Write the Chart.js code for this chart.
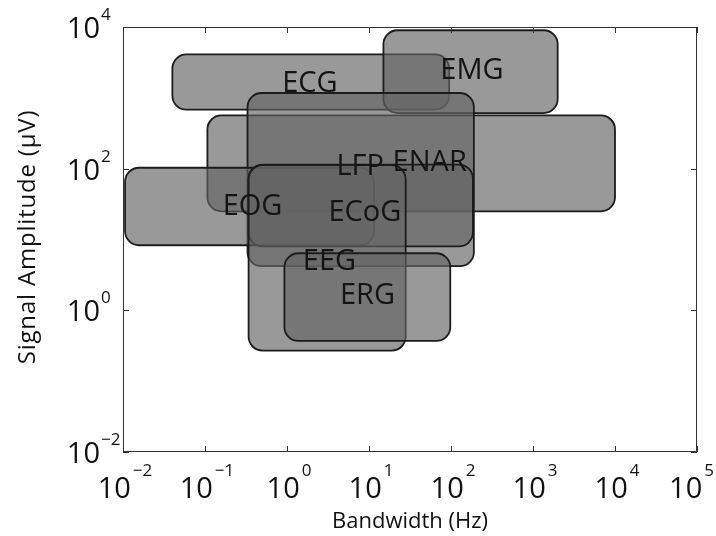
<!DOCTYPE html>
<html>
<head>
<meta charset="utf-8">
<script src="https://cdn.jsdelivr.net/npm/chart.js@4.4.1/dist/chart.umd.min.js"></script>
<style>
    html, body { margin: 0; padding: 0; background: #fff; }
    #wrap { width: 716px; height: 536px; position: relative; }
</style>
</head>
<body>
<div id="wrap"><canvas id="bandChart"></canvas></div>
<script>
// signal types: bandwidth range (Hz) and amplitude range (uV)
const names = ['ECG', 'EMG', 'ENAR', 'LFP', 'EOG', 'ECoG', 'EEG', 'ERG'];
const freqLow = [0.04, 15, 0.107, 0.33, 0.0106, 0.34, 0.34, 0.93];
const freqHigh = [95, 2000, 10000, 190, 11.5, 185, 28, 98];
const ampLow = [680, 610, 25, 4.2, 8.3, 8, 0.27, 0.37];
const ampHigh = [4100, 9000, 565, 1170, 103, 114, 112, 6.4];

// where each name is written
const labelFreq = [1.9, 180, 55, 7.8, 0.38, 8.9, 3.3, 9.6];
const labelAmp = [1600, 2450, 120, 108, 29, 24, 4.9, 1.6];

const xTickExps = [-2, -1, 0, 1, 2, 3, 4, 5];
const yTickExps = [-2, 0, 2, 4];

const FONT = '"Open Sans", "DejaVu Sans", sans-serif';

function expText(e) {
    return e < 0 ? '\u2212' + Math.abs(e) : String(e);
}

const boxPlugin = {
    id: 'bandBoxes',
    beforeDatasetsDraw(chart) {
        const { ctx, scales: { x, y } } = chart;
        ctx.save();
        for (let i = 0; i < names.length; i++) {
            const l = x.getPixelForValue(freqLow[i]);
            const r = x.getPixelForValue(freqHigh[i]);
            const t = y.getPixelForValue(ampHigh[i]);
            const b = y.getPixelForValue(ampLow[i]);
            ctx.beginPath();
            ctx.roundRect(l, t, r - l, b - t, 14);
            ctx.fillStyle = 'rgba(100, 100, 100, 0.66)';
            ctx.fill();
            ctx.lineWidth = 1.8;
            ctx.strokeStyle = '#1c1c1c';
            ctx.stroke();
        }
        ctx.restore();
    },
    afterDraw(chart) {
        const { ctx, chartArea: a, scales: { x, y } } = chart;
        ctx.save();

        // frame + inward ticks
        ctx.strokeStyle = '#333';
        ctx.lineWidth = 1;
        ctx.strokeRect(a.left + 0.5, a.top + 0.5, a.right - a.left - 1, a.bottom - a.top - 1);
        ctx.beginPath();
        xTickExps.forEach(e => {
            const px = Math.round(x.getPixelForValue(Math.pow(10, e))) + 0.5;
            ctx.moveTo(px, a.bottom); ctx.lineTo(px, a.bottom - 6);
            ctx.moveTo(px, a.top); ctx.lineTo(px, a.top + 6);
        });
        yTickExps.forEach(e => {
            const py = Math.round(y.getPixelForValue(Math.pow(10, e))) + 0.5;
            ctx.moveTo(a.left, py); ctx.lineTo(a.left + 6, py);
            ctx.moveTo(a.right, py); ctx.lineTo(a.right - 6, py);
        });
        ctx.stroke();

        ctx.fillStyle = '#111';
        ctx.textBaseline = 'alphabetic';

        // x tick labels
        xTickExps.forEach(e => {
            const px = x.getPixelForValue(Math.pow(10, e));
            ctx.font = '29px ' + FONT;
            const wb = ctx.measureText('10').width;
            ctx.font = '17px ' + FONT;
            const we = ctx.measureText(expText(e)).width;
            const start = Math.min(px - (wb + we + 2) / 2 + 2, 714 - wb - we - 2);
            ctx.textAlign = 'left';
            ctx.font = '29px ' + FONT;
            ctx.fillText('10', start, a.bottom + 46);
            ctx.font = '17px ' + FONT;
            ctx.fillText(expText(e), start + wb + 2, a.bottom + 24);
        });

        // y tick labels
        yTickExps.forEach(e => {
            const py = y.getPixelForValue(Math.pow(10, e));
            ctx.font = '29px ' + FONT;
            ctx.textAlign = 'right';
            ctx.fillText('10', a.left - 23, py + 11);
            ctx.font = '17px ' + FONT;
            ctx.textAlign = 'left';
            ctx.fillText(expText(e), a.left - 22, py - 7);
        });

        // axis titles
        ctx.font = '22px ' + FONT;
        ctx.textAlign = 'center';
        ctx.fillText('Bandwidth (Hz)', (a.left + a.right) / 2, 528);
        ctx.save();
        ctx.font = '24px ' + FONT;
        ctx.letterSpacing = '0.8px';
        ctx.translate(28, 237);
        ctx.rotate(-Math.PI / 2);
        ctx.textBaseline = 'middle';
        ctx.fillText('Signal Amplitude (\u03bcV)', 0, 0);
        ctx.restore();

        // box names
        ctx.font = '29px ' + FONT;
        ctx.textAlign = 'center';
        ctx.textBaseline = 'middle';
        ctx.fillStyle = '#141414';
        for (let i = 0; i < names.length; i++) {
            ctx.fillText(names[i], x.getPixelForValue(labelFreq[i]), y.getPixelForValue(labelAmp[i]));
        }
        ctx.restore();
    }
};

new Chart(document.getElementById('bandChart'), {
    type: 'scatter',
    data: { datasets: [{ data: [] }] },
    options: {
        responsive: true,
        maintainAspectRatio: false,
        animation: false,
        layout: { padding: { left: 123, top: 27, right: 19, bottom: 84 } },
        plugins: { legend: { display: false }, tooltip: { enabled: false } },
        scales: {
            x: { type: 'logarithmic', min: 0.01, max: 100000, display: false },
            y: { type: 'logarithmic', min: 0.01, max: 10000, display: false }
        }
    },
    plugins: [boxPlugin]
});
</script>
</body>
</html>
